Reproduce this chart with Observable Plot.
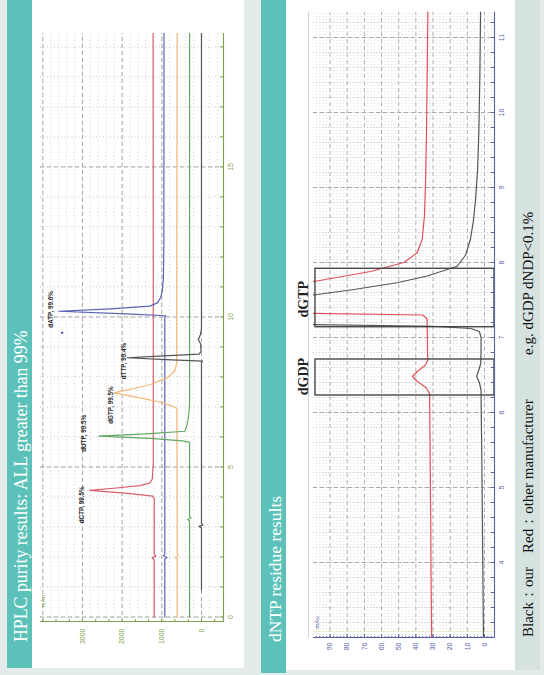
<!DOCTYPE html>
<html><head><meta charset="utf-8">
<script src="https://cdn.jsdelivr.net/npm/d3@7"></script>
<script src="https://cdn.jsdelivr.net/npm/@observablehq/plot@0.6"></script>
<style>
html,body{margin:0;padding:0;width:544px;height:675px;overflow:hidden;background:#e3ecea;}
#land{position:absolute;left:0;top:0;width:675px;height:544px;transform-origin:0 0;transform:translate(0px,675px) rotate(-90deg);}
.box{position:absolute;}
.title{position:absolute;color:#fff;font-family:"Liberation Serif","Times New Roman",serif;white-space:nowrap;}
.cap{position:absolute;color:#111;font-family:"Liberation Serif","Times New Roman",serif;white-space:nowrap;font-size:15px;line-height:15px;}
svg{position:absolute;left:0;top:0;}
</style></head><body>
<div id="land">
  <div class="box" style="left:7px;top:7px;width:668px;height:25px;background:#5cc2b9"></div>
  <div class="box" id="p1" style="left:7px;top:32px;width:668px;height:212px;background:#fff"></div>
  <div class="box" style="left:2px;top:261px;width:673px;height:25px;background:#5cc2b9"></div>
  <div class="box" id="p2" style="left:5px;top:286px;width:670px;height:229px;background:#fff"></div>
  <div class="box" style="left:5px;top:515px;width:670px;height:25px;background:#d5e2df"></div>
  <div class="title" id="t1" style="left:33px;top:12.5px;font-size:17.8px;line-height:17.8px"></div>
  <div class="title" id="t2" style="left:33px;top:267px;font-size:17.5px;line-height:17.5px"></div>
  <div class="cap" id="c1" style="left:38px;top:521px"></div>
  <div class="cap" id="c2" style="left:122px;top:521px"></div>
  <div class="cap" id="c3" style="left:320px;top:521px"></div>
</div>
<script>
// ---------- texts ----------
const title1 = "HPLC purity results: ALL greater than 99%";
const title2 = "dNTP residue results";
const captionParts = ["Black：our", "Red：other manufacturer", "e.g. dGDP dNDP<0.1%"];

// ---------- chart 1: HPLC purity (time in min, mAU) ----------
const hplcRed = [[0,1190],[1.9,1190],[1.97,1245],[2.03,1150],[2.1,1190],[3.95,1190],[4.03,1230],[4.12,1850],[4.22,2816],[4.3,2150],[4.38,1550],[4.47,1300],[4.6,1240],[4.95,1225],[5.05,1215],[10,1215],[15,1218],[19.48,1220]];
const hplcBlue = [[0,925],[1.93,925],[1.98,870],[2.04,955],[2.1,925],[9.98,925],[10.04,900],[10.1,1900],[10.19,3597],[10.27,2300],[10.36,1300],[10.47,1110],[10.65,1030],[10.85,990],[11.3,960],[12.5,948],[19.48,945]];
const hplcOrange = [[0,613],[1.93,613],[1.98,660],[2.04,580],[2.1,613],[6.95,620],[7.03,739],[7.15,1000],[7.3,1550],[7.47,2211],[7.6,1750],[7.75,1286],[7.97,866],[8.19,675],[8.45,625],[19.48,615]];
const hplcGreen = [[0,300],[3.2,300],[3.25,350],[3.3,265],[3.35,300],[5.82,300],[5.87,480],[5.95,1300],[6.03,2589],[6.1,1400],[6.19,420],[6.35,375],[6.6,335],[6.9,310],[7.1,300],[19.48,300]];
const hplcBlack = [[0.9,0],[2.97,0],[3.02,60],[3.07,-40],[3.12,0],[8.47,0],[8.53,-25],[8.58,900],[8.64,1873],[8.7,950],[8.76,60],[8.85,10],[9.1,20],[9.25,80],[9.4,30],[9.6,0],[19.48,0]];
const peakNames = ["dCTP, 99.5%","dUTP, 99.5%","dGTP, 99.5%","dTTP, 99.4%","dATP, 99.6%"];
const peakLabelT = [3.74, 6.12, 7.06, 8.53, 10.25];
const peakLabelV = [3007, 2967, 2294, 1950, 3806];
const markerDot = [[9.47, 3511]];
const t1Domain = [-0.15, 19.48];
const v1Domain = [-555, 4058];
const t1Labels = [0, 5, 10, 15];
const v1Labels = [0, 1000, 2000, 3000];
const t1Major = [0, 5, 10, 15];
const v1Major = [0, 1000, 2000, 3000, 4000];
const t1Minor = d3.range(0, 20, 1);
const v1Minor = d3.range(-400, 4001, 200);
const v1Ticks = d3.range(-1, 13).map(i => i * 1000 / 3);

// ---------- chart 2: dNTP residue ----------
const resRed = [[3,30.8],[3.5,31],[4,31.2],[4.5,31.3],[5,31.5],[5.5,31.7],[6,31.9],[6.25,32],[6.33,34],[6.42,39.5],[6.48,42],[6.55,39],[6.63,34.5],[6.7,33],[6.8,33.2],[7,33.3],[7.25,33.5],[7.3,36],[7.33,130],[7.72,130],[7.75,98.5],[7.88,66.4],[8,47],[8.13,39.2],[8.31,36.3],[8.62,35],[9.02,34.4],[9.73,33.8],[10.5,33.4],[11.35,33]];
const resBlack = [[3,0.6],[3.5,0.8],[4,1],[4.5,1.2],[5,1.4],[5.5,1.6],[6,1.9],[6.3,2],[6.4,3],[6.48,4.6],[6.56,3.4],[6.65,2.2],[6.8,2],[7,2],[7.08,3],[7.12,8],[7.15,30],[7.18,130],[7.55,130],[7.57,98.5],[7.64,76],[7.73,51],[7.82,33.4],[7.95,15.9],[8.1,11],[8.31,8.2],[8.55,6.5],[8.84,5.2],[9.25,4],[9.73,3.3],[10.5,2.7],[11.35,2.3]];
const boxNames = ["dGDP", "dGTP"];
const boxStart = [6.24, 7.15];
const boxEnd = [6.72, 7.93];
const boxLabelT = [6.48, 7.51];
const boxTop = 98.5;
const boxLabelV = 105.5;
const topBorderV = 102.6;
const t2Domain = [3, 11.35];
const v2Domain = [-5.83, 99.65];
const t2Labels = [4, 5, 6, 7, 8, 9, 10, 11];
const v2Labels = [0, 10, 20, 30, 40, 50, 60, 70, 80, 90];
const t2Major = [4, 5, 6, 7, 8, 9, 10, 11];
const t2Minor = d3.range(3.2, 11.35, 0.2);
const v2Major = [0, 10, 20, 30, 40, 50, 60, 70, 80, 90];
const v2Minor = d3.range(-4, 100, 2);

document.getElementById("t1").textContent = title1;
document.getElementById("t2").textContent = title2;
document.getElementById("c1").textContent = captionParts[0];
document.getElementById("c2").textContent = captionParts[1];
document.getElementById("c3").textContent = captionParts[2];

const sans = "'Liberation Sans', Arial, sans-serif";
const olive = "#7f9f4c";
const purple = "#5a5ea8";
const X = d => d[0], Y = d => d[1];
const plain = d => String(d);

const chart1 = Plot.plot({
  width: 668, height: 212,
  marginLeft: 46, marginRight: 33, marginTop: 8, marginBottom: 21,
  style: {background: "transparent", fontFamily: sans, overflow: "visible"},
  x: {domain: t1Domain},
  y: {domain: v1Domain},
  marks: [
    Plot.gridX(t1Minor, {stroke: "#b8b8b8", strokeOpacity: 1, strokeWidth: 0.8, strokeDasharray: "1,2.5"}),
    Plot.gridY(v1Minor, {stroke: "#c8c8c8", strokeOpacity: 1, strokeWidth: 0.8, strokeDasharray: "1,2.5"}),
    Plot.gridX(t1Major, {stroke: "#a0a0a0", strokeOpacity: 1, strokeWidth: 0.9, strokeDasharray: "4,3"}),
    Plot.gridY(v1Major, {stroke: "#a0a0a0", strokeOpacity: 1, strokeWidth: 0.9, strokeDasharray: "4,3"}),
    Plot.line(hplcRed, {x: X, y: Y, stroke: "#d9606a", strokeWidth: 1.2, clip: true}),
    Plot.line(hplcBlue, {x: X, y: Y, stroke: "#5a62b4", strokeWidth: 1.2, clip: true}),
    Plot.line(hplcOrange, {x: X, y: Y, stroke: "#f3b77a", strokeWidth: 1.2, clip: true}),
    Plot.line(hplcGreen, {x: X, y: Y, stroke: "#62a862", strokeWidth: 1.2, clip: true}),
    Plot.line(hplcBlack, {x: X, y: Y, stroke: "#555", strokeWidth: 1.2, clip: true}),
    Plot.dot(markerDot, {x: X, y: Y, r: 1.2, fill: "#4a52b0"}),
    Plot.text(peakNames, {x: (d, i) => peakLabelT[i], y: (d, i) => peakLabelV[i], text: d => d, fontSize: 6.3, fontWeight: "bold", fill: "#2a2a2a"}),
    Plot.text(["mAu"], {x: [0.52], y: [3983], text: d => d, fontSize: 6, fill: olive, textAnchor: "middle"}),
    Plot.ruleX([t1Domain[0]], {stroke: olive, strokeWidth: 1.1}),
    Plot.ruleY([v1Domain[0]], {stroke: olive, strokeWidth: 1.1}),
    Plot.axisX(t1Minor, {tickSize: 3, dy: -3, stroke: olive, fill: "none", label: null}),
    Plot.axisY(v1Ticks, {tickSize: 3, dx: 3, stroke: olive, fill: "none", label: null}),
    Plot.axisX(t1Labels, {tickSize: 0, tickPadding: 5, fontSize: 7, fill: olive, label: null, tickFormat: plain}),
    Plot.axisY(v1Labels, {tickSize: 0, tickPadding: 7, fontSize: 7, fill: olive, label: null, tickFormat: plain})
  ]
});
document.getElementById("p1").appendChild(chart1);

const chart2 = Plot.plot({
  width: 670, height: 229,
  marginLeft: 32, marginRight: 11.75, marginTop: 27, marginBottom: 21,
  style: {background: "transparent", fontFamily: sans, overflow: "visible"},
  x: {domain: t2Domain},
  y: {domain: v2Domain},
  marks: [
    Plot.gridX(t2Minor, {stroke: "#c0c0c0", strokeOpacity: 1, strokeWidth: 0.8, strokeDasharray: "1,2"}),
    Plot.gridY(v2Minor, {stroke: "#d4d4d4", strokeOpacity: 1, strokeWidth: 0.8, strokeDasharray: "1,2"}),
    Plot.gridX(t2Major, {stroke: "#a0a0a0", strokeOpacity: 1, strokeWidth: 0.9, strokeDasharray: "4,3"}),
    Plot.gridY(v2Major, {stroke: "#a8a8a8", strokeOpacity: 1, strokeWidth: 0.9, strokeDasharray: "4,3"}),
    Plot.ruleY([topBorderV], {stroke: "#cfcfcf", strokeWidth: 1}),
    Plot.ruleX([3.08], {stroke: "#e8e08a", strokeWidth: 1, strokeDasharray: "1,1.5"}),
    Plot.line(resRed, {x: X, y: Y, stroke: "#e0505a", strokeWidth: 1.2, clip: true}),
    Plot.line(resBlack, {x: X, y: Y, stroke: "#555", strokeWidth: 1.2, clip: true}),
    Plot.rect(boxNames, {x1: (d, i) => boxStart[i], x2: (d, i) => boxEnd[i], y1: v2Domain[0], y2: boxTop, fill: "none", stroke: "#3a3a3a", strokeWidth: 1.3}),
    Plot.text(boxNames, {x: (d, i) => boxLabelT[i], y: boxLabelV, text: d => d, fontSize: 14, fontWeight: "bold", fontFamily: "'Liberation Serif', 'Times New Roman', serif", fill: "#222"}),
    Plot.text(["mAu"], {x: [3.2], y: [97.3], text: d => d, fontSize: 6, fill: purple}),
    Plot.ruleX([t2Domain[0]], {stroke: purple, strokeWidth: 1.1}),
    Plot.ruleY([v2Domain[0]], {stroke: purple, strokeWidth: 1.1}),
    Plot.axisX(t2Minor, {tickSize: 3, dy: -3, stroke: purple, fill: "none", label: null}),
    Plot.axisY(v2Minor, {tickSize: 2, dx: 2, stroke: purple, fill: "none", label: null}),
    Plot.axisY(v2Major, {tickSize: 4, dx: 4, stroke: purple, fill: "none", label: null}),
    Plot.axisX(t2Labels, {tickSize: 0, tickPadding: 5, fontSize: 7, fill: purple, label: null, tickFormat: plain}),
    Plot.axisY(v2Labels, {tickSize: 0, tickPadding: 5, fontSize: 7, fill: purple, label: null, tickFormat: plain})
  ]
});
document.getElementById("p2").appendChild(chart2);
</script>
</body></html>
